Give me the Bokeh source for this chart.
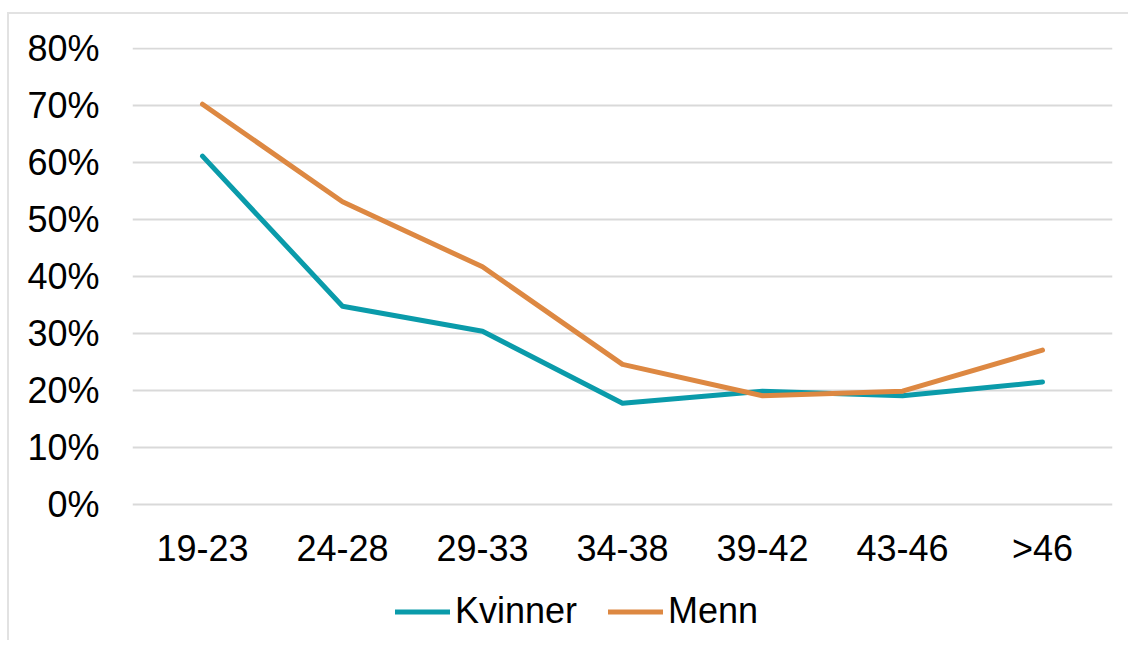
from bokeh.plotting import figure
from bokeh.models import (ColumnDataSource, FactorRange, Range1d, FixedTicker,
                          NumeralTickFormatter, Legend, LegendItem)
from bokeh.embed import file_html
from bokeh.resources import INLINE

categories = ["19-23", "24-28", "29-33", "34-38", "39-42", "43-46", ">46"]
kvinner = [0.611, 0.348, 0.304, 0.178, 0.199, 0.191, 0.215]
menn = [0.702, 0.531, 0.417, 0.246, 0.191, 0.199, 0.271]
y_ticks = [0, 0.1, 0.2, 0.3, 0.4, 0.5, 0.6, 0.7, 0.8]

TEAL = "#0A9BAA"
ORANGE = "#DD8842"
FONT = "Liberation Sans"

src = ColumnDataSource(dict(cat=categories, k=kvinner, m=menn))

p = figure(width=1121, height=628, x_range=FactorRange(*categories, range_padding=0),
           y_range=Range1d(-0.2381, 0.8015), output_backend="svg", toolbar_location=None,
           min_border_left=123, min_border_right=18, min_border_top=33,
           min_border_bottom=2)
p.styles = {"margin-left": "7px", "margin-top": "12px",
            "border-left": "2px solid #e2e2e2", "border-top": "2px solid #e2e2e2"}
p.outline_line_color = None
p.background_fill_color = "white"
p.border_fill_color = "white"

rk = p.line("cat", "k", source=src, line_color=TEAL, line_width=5, line_cap="round", line_join="round")
rm = p.line("cat", "m", source=src, line_color=ORANGE, line_width=5, line_cap="round", line_join="round")

p.xaxis.fixed_location = 0
p.yaxis.ticker = FixedTicker(ticks=y_ticks)
p.yaxis.formatter = NumeralTickFormatter(format="0%")
for ax in (p.xaxis[0], p.yaxis[0]):
    ax.axis_line_color = None
    ax.major_tick_line_color = None
    ax.minor_tick_line_color = None
    ax.major_label_text_font = FONT
    ax.major_label_text_font_size = "36px"
    ax.major_label_text_color = "#000000"
p.yaxis.major_label_standoff = 27
p.xaxis.major_label_standoff = 17

p.xgrid.grid_line_color = None
p.ygrid.grid_line_color = "#d9d9d9"
p.ygrid.grid_line_width = 2

legend = Legend(items=[LegendItem(label="Kvinner", renderers=[rk]),
                       LegendItem(label="Menn", renderers=[rm])],
                orientation="horizontal", location=(263, 8),
                label_text_font=FONT, label_text_font_size="36px",
                label_text_color="#000000", glyph_width=55, glyph_height=41,
                label_standoff=5, spacing=31, padding=0, margin=0,
                border_line_color=None, background_fill_alpha=0)
p.add_layout(legend, "center")

open("out.html", "w").write(file_html(p, INLINE))
